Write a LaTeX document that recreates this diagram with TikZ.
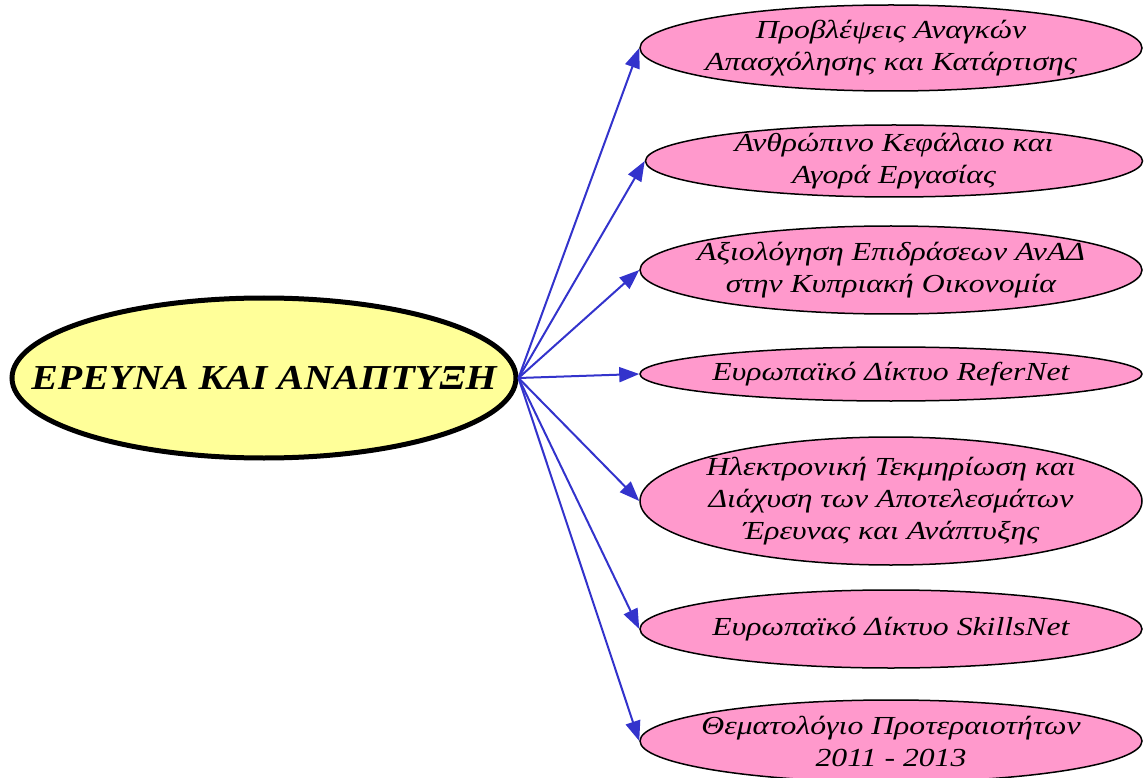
\documentclass[tikz,border=0pt]{standalone}
\usepackage{fontspec}
\setmainfont{Liberation Serif}
\usetikzlibrary{shapes.geometric,arrows.meta}
\definecolor{cyellow}{HTML}{FFFF99}
\definecolor{cpink}{HTML}{FF99CC}
\definecolor{cblue}{HTML}{3333CC}
\tikzset{
  mainell/.style={ellipse, draw=black, line width=5pt, fill=cyellow, inner sep=0pt},
  pinkell/.style={ellipse, draw=black, line width=1.5pt, fill=cpink, inner sep=0pt, minimum width=502pt},
  ptext/.style={align=center, font=\fontsize{26}{32}\selectfont\itshape\addfontfeature{FakeStretch=1.22}, inner sep=0pt},
  mtext/.style={font=\fontsize{35}{40}\selectfont\bfseries\itshape\addfontfeature{FakeStretch=1.14}, inner sep=0pt},
  conn/.style={draw=cblue, line width=2pt, -{Triangle[length=20pt,width=15pt]}}
}
\begin{document}
\begin{tikzpicture}[x=1pt,y=-1pt]
\useasboundingbox (0,0) rectangle (1144,778);
\node[mainell, minimum width=504pt, minimum height=160pt] (c) at (264,378) {};
\node[mtext] (ct) at (c) {ΕΡΕΥΝΑ ΚΑΙ ΑΝΑΠΤΥΞΗ};

\node[pinkell, minimum height=86pt] (e1) at (891,48) {};
\node[ptext] (t1) at (e1) {Προβλέψεις Αναγκών\\Απασχόλησης και Κατάρτισης};

\node[pinkell, minimum width=497pt, minimum height=72pt] (e2) at (894,161) {};
\node[ptext] (t2) at (e2) {Ανθρώπινο Κεφάλαιο και\\Αγορά Εργασίας};

\node[pinkell, minimum height=88pt] (e3) at (891,270) {};
\node[ptext] (t3) at (e3) {Αξιολόγηση Επιδράσεων ΑνΑΔ\\στην Κυπριακή Οικονομία};

\node[pinkell, minimum height=54pt] (e4) at (891,374) {};
\node[ptext] (t4) at (e4) {Ευρωπαϊκό Δίκτυο ReferNet};

\node[pinkell, minimum height=128pt] (e5) at (891,501) {};
\node[ptext] (t5) at (e5) {Ηλεκτρονική Τεκμηρίωση και\\Διάχυση των Αποτελεσμάτων\\Έρευνας και Ανάπτυξης};

\node[pinkell, minimum height=78pt] (e6) at (891,629) {};
\node[ptext] (t6) at (e6) {Ευρωπαϊκό Δίκτυο SkillsNet};

\node[pinkell, minimum height=82pt] (e7) at (891,741) {};
\node[ptext] (t7) at (e7) {Θεματολόγιο Προτεραιοτήτων\\2011 - 2013};

\foreach \i in {1,...,7}{
  \draw[conn] (c.east) -- (e\i.west);
}
\end{tikzpicture}
\end{document}
